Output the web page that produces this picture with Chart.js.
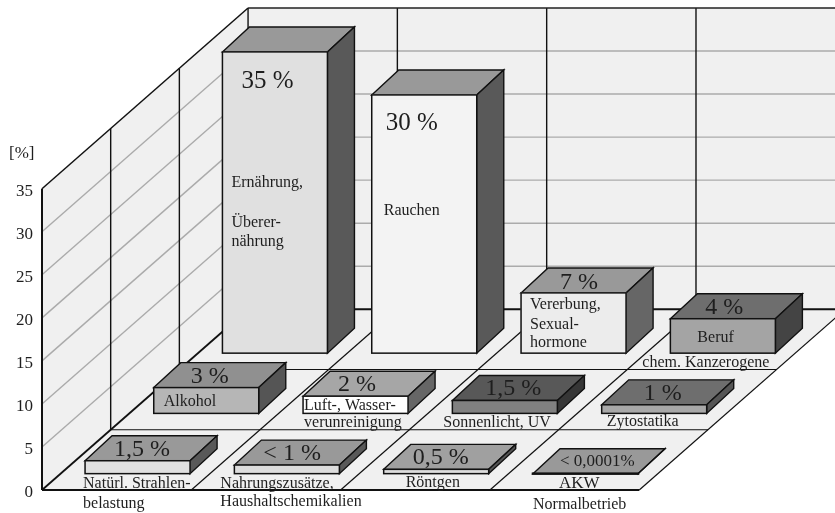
<!DOCTYPE html>
<html lang="de">
<head>
<meta charset="utf-8">
<title>Krebsursachen</title>
<style>
  html, body { margin: 0; padding: 0; background: #fff; }
  canvas { display: block; }
</style>
<script src="https://cdn.jsdelivr.net/npm/chart.js@4"></script>
</head>
<body>
<canvas id="chart" width="835" height="513"></canvas>
<script>
// Share of cancer causes, back row first, each row from left to right.
const valueLabels = ['35 %', '30 %', '7 %', '4 %', '3 %', '2 %', '1,5 %', '1 %', '1,5 %', '< 1 %', '0,5 %', '< 0,0001%'];
const values = [35, 30, 7, 4, 3, 2, 1.5, 1, 1.5, 1, 0.5, 0.0001];
const causes = [
  ['Ernährung,', 'Überer-', 'nährung'],
  ['Rauchen'],
  ['Vererbung,', 'Sexual-', 'hormone'],
  ['Beruf', 'chem. Kanzerogene'],
  ['Alkohol'],
  ['Luft-, Wasser-', 'verunreinigung'],
  ['Sonnenlicht, UV'],
  ['Zytostatika'],
  ['Natürl. Strahlen-', 'belastung'],
  ['Nahrungszusätze,', 'Haushaltschemikalien'],
  ['Röntgen'],
  ['AKW', 'Normalbetrieb']
];
const depthRows = [2, 2, 2, 2, 1, 1, 1, 1, 0, 0, 0, 0];
const columns = [0, 1, 2, 3, 0, 1, 2, 3, 0, 1, 2, 3];
const yTicks = [0, 5, 10, 15, 20, 25, 30, 35];

// Face greys per bar.
const frontFill = ['#e0e0e0', '#f3f3f3', '#ececec', '#a4a4a4', '#b6b6b6', '#ffffff', '#808080', '#a8a8a8', '#e0e0e0', '#dddddd', '#dddddd', '#888888'];
const topFill = ['#999999', '#999999', '#999999', '#6e6e6e', '#909090', '#a6a6a6', '#585858', '#6e6e6e', '#999999', '#999999', '#a0a0a0', '#999999'];
const sideFill = ['#595959', '#595959', '#666666', '#444444', '#555555', '#666666', '#363636', '#555555', '#595959', '#595959', '#555555', '#595959'];

// Oblique projection, in axis units: one floor row moves right and up by these amounts.
const ROW_SHIFT_X = 0.46;
const ROW_RISE_Y = 7;
const ROW_COUNT = 3;
const COL_COUNT = 4;
const WALL_HEIGHT = 35;
const BAR_INSET_X = 0.64;
const BAR_INSET_Y = 1.9;
const BOX_DEPTH_X = 0.181;
const BOX_DEPTH_Y = 2.9;
const BACK_X = ROW_SHIFT_X * ROW_COUNT;
const BACK_Y = ROW_RISE_Y * ROW_COUNT;
const X_MAX = 5.311;
const Y_MAX = WALL_HEIGHT + BACK_Y;

const FONT = '"Liberation Serif", serif';
const INK = '#1e1e1e';
const TICK_TEXT_DROP = 3;

// Text anchors relative to each bar's front-left foot, in pixels.
const valueOffsets = [[19, -265], [14, -223], [39, -64], [35, -39], [37, -30], [35, -22], [33, -18], [42, -13], [29, -18], [29, -14], [29, -10], [27, -8]];
const causeOffsets = [
  [[9, -166], [9, -126], [9, -107]],
  [[12, -138]],
  [[9, -44], [9, -24], [9, -6]],
  [[27, -11], [-28, 14]],
  [[10, -7]],
  [[1, -3], [1, 14]],
  [[-9, 14]],
  [[5, 13]],
  [[-2, 14], [-2, 34]],
  [[-14, 14], [-14, 32]],
  [[22, 13]],
  [[26, 14], [0, 35]]
];
const valueFontSize = [25, 25, 24, 24, 24, 24, 24, 24, 24, 24, 24, 17];
const CAUSE_FONT_SIZE = 16;

const barData = values.map((v, i) => {
  const base = BAR_INSET_Y + ROW_RISE_Y * depthRows[i];
  return { x: columns[i] + BAR_INSET_X + ROW_SHIFT_X * depthRows[i], y: [base, base + v] };
});

function polygon(ctx, pts, fill, stroke, width) {
  ctx.beginPath();
  pts.forEach((p, i) => (i ? ctx.lineTo(p[0], p[1]) : ctx.moveTo(p[0], p[1])));
  ctx.closePath();
  if (fill) { ctx.fillStyle = fill; ctx.fill(); }
  if (stroke) { ctx.strokeStyle = stroke; ctx.lineWidth = width; ctx.lineJoin = 'miter'; ctx.stroke(); }
}

function segment(ctx, a, b, color, width) {
  ctx.beginPath();
  ctx.moveTo(a[0], a[1]);
  ctx.lineTo(b[0], b[1]);
  ctx.strokeStyle = color;
  ctx.lineWidth = width;
  ctx.stroke();
}

// Walls, floor and their grid lines.
const roomPlugin = {
  id: 'room',
  afterLayout(chart) {
    // Numerals sit optically centred on the wall's front edge positions.
    chart.scales.y.getLabelItems().forEach(item => { item.textOffset += TICK_TEXT_DROP; });
  },
  beforeDatasetsDraw(chart) {
    const { ctx, scales: { x, y } } = chart;
    const P = (vx, vy) => [x.getPixelForValue(vx), y.getPixelForValue(vy)];
    ctx.save();
    polygon(ctx, [P(0, 0), P(0, WALL_HEIGHT), P(BACK_X, Y_MAX), P(BACK_X, BACK_Y)], '#f0f0f0');
    polygon(ctx, [P(BACK_X, BACK_Y), P(BACK_X, Y_MAX), P(X_MAX, Y_MAX), P(X_MAX, BACK_Y)], '#f0f0f0');
    polygon(ctx, [P(0, 0), P(COL_COUNT, 0), P(COL_COUNT + BACK_X, BACK_Y), P(BACK_X, BACK_Y)], '#f0f0f0');

    yTicks.slice(1, -1).forEach(t => {
      segment(ctx, P(0, t), P(BACK_X, t + BACK_Y), '#ababab', 1.4);
      segment(ctx, P(BACK_X, t + BACK_Y), P(X_MAX, t + BACK_Y), '#ababab', 1.4);
    });

    for (let r = 1; r < ROW_COUNT; r++) {
      const sx = ROW_SHIFT_X * r, sy = ROW_RISE_Y * r;
      segment(ctx, P(sx, sy), P(sx, sy + WALL_HEIGHT), '#111', 1.4);
      segment(ctx, P(sx, sy), P(COL_COUNT + sx, sy), '#111', 1.2);
    }
    for (let c = 1; c <= COL_COUNT; c++) {
      segment(ctx, P(c, 0), P(c + BACK_X, BACK_Y), '#111', 1.2);
      segment(ctx, P(c + BACK_X, BACK_Y), P(c + BACK_X, Y_MAX), '#111', 1.4);
    }
    segment(ctx, P(BACK_X, BACK_Y), P(BACK_X, Y_MAX), '#111', 1.4);
    segment(ctx, P(BACK_X, BACK_Y), P(X_MAX + 0.1, BACK_Y), '#111', 1.8);
    segment(ctx, P(BACK_X, Y_MAX), P(X_MAX, Y_MAX), '#222', 1.6);
    segment(ctx, P(0, WALL_HEIGHT), P(BACK_X, Y_MAX), '#111', 1.5);
    segment(ctx, P(0, 0), P(BACK_X, BACK_Y), '#111', 1.8);
    segment(ctx, P(0, 0), P(0, WALL_HEIGHT), '#111', 2);
    segment(ctx, P(0, 0), P(COL_COUNT, 0), '#111', 2);

    // Top and side faces sit behind the front faces that the bar dataset paints.
    const dx = x.getPixelForValue(BOX_DEPTH_X) - x.getPixelForValue(0);
    const dy = y.getPixelForValue(BOX_DEPTH_Y) - y.getPixelForValue(0);
    chart.getDatasetMeta(0).data.forEach((bar, i) => {
      const { x: cx, y: top, base, width } = bar.getProps(['x', 'y', 'base', 'width'], true);
      const l = cx - width / 2, r = cx + width / 2;
      polygon(ctx, [[l, top], [l + dx, top + dy], [r + dx, top + dy], [r, top]], topFill[i], '#111', 1.4);
      polygon(ctx, [[r, top], [r + dx, top + dy], [r + dx, base + dy], [r, base]], sideFill[i], '#111', 1.4);
    });
    ctx.restore();
  },
  afterDatasetsDraw(chart) {
    const { ctx, chartArea, scales: { y } } = chart;
    ctx.save();
    chart.getDatasetMeta(0).data.forEach((bar, i) => {
      const { x: cx, y: top, base, width } = bar.getProps(['x', 'y', 'base', 'width'], true);
      const l = cx - width / 2;
      ctx.strokeStyle = '#111';
      ctx.lineWidth = values[i] < 0.01 ? 2.5 : 1.5;
      ctx.strokeRect(l, top, width, base - top);

      ctx.fillStyle = INK;
      ctx.textAlign = 'left';
      ctx.textBaseline = 'alphabetic';
      ctx.font = `${valueFontSize[i]}px ${FONT}`;
      ctx.fillText(valueLabels[i], l + valueOffsets[i][0], base + valueOffsets[i][1]);
      causes[i].forEach((line, k) => {
        ctx.font = `${i === 11 && k === 0 ? 17 : CAUSE_FONT_SIZE}px ${FONT}`;
        ctx.fillText(line, l + causeOffsets[i][k][0], base + causeOffsets[i][k][1]);
      });
    });
    // Unit above the value axis.
    ctx.font = `17px ${FONT}`;
    ctx.fillStyle = INK;
    ctx.textAlign = 'left';
    ctx.fillText('[%]', chartArea.left - 33, y.getPixelForValue(38.6));
    ctx.restore();
  }
};

new Chart(document.getElementById('chart'), {
  type: 'bar',
  plugins: [roomPlugin],
  data: {
    datasets: [{
      data: barData,
      backgroundColor: frontFill,
      borderWidth: 0,
      barThickness: 105
    }]
  },
  options: {
    responsive: false,
    animation: false,
    layout: { padding: { top: 8, bottom: 23, left: 0, right: 0 } },
    plugins: { legend: { display: false }, tooltip: { enabled: false }, title: { display: false } },
    scales: {
      x: { type: 'linear', display: false, min: 0, max: X_MAX, offset: false, grid: { display: false } },
      y: {
        type: 'linear',
        min: 0,
        max: Y_MAX,
        grid: { display: false, drawTicks: false },
        border: { display: false },
        afterBuildTicks(scale) { scale.ticks = yTicks.map(value => ({ value })); },
        afterFit(scale) { scale.width = 42; scale.paddingTop = 0; scale.paddingBottom = 0; },
        ticks: {
          padding: 9,
          color: INK,
          font: { family: 'Liberation Serif', size: 17 }
        }
      }
    }
  }
});
</script>
</body>
</html>
